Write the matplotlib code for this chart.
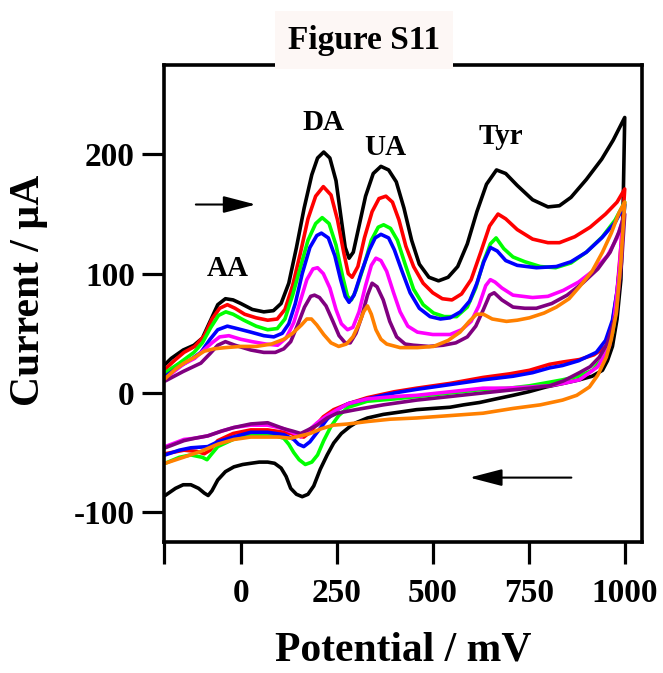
import matplotlib
matplotlib.use("Agg")
import matplotlib.pyplot as plt

plt.rcParams['font.family'] = ['Liberation Serif', 'DejaVu Serif']
plt.rcParams['font.weight'] = 'bold'
plt.rcParams['axes.unicode_minus'] = False

# cyclic voltammograms: (potential mV, current uA), forward then reverse scan
black_fwd = [(-197, 24), (-181, 29), (-150, 36), (-122, 40), (-100, 46), (-80, 60), (-60, 74),
             (-40, 79), (-20, 78), (0, 75), (30, 70), (60, 68), (85, 69), (105, 75), (125, 92),
             (145, 122), (165, 155), (185, 183), (200, 197), (216, 202), (232, 197), (248, 178),
             (262, 145), (272, 122), (282, 113), (293, 118), (308, 140), (325, 165), (345, 184),
             (365, 190), (385, 187), (405, 177), (425, 155), (445, 128), (465, 108), (490, 97),
             (515, 94), (540, 97), (565, 106), (590, 125), (615, 152), (640, 175), (666, 187),
             (690, 184), (720, 174), (760, 162), (800, 156), (830, 157), (860, 164), (900, 179),
             (940, 196), (970, 212), (1000, 231)]
black_rev = [(1000, 231), (996, 160), (990, 95), (980, 62), (968, 39), (955, 27), (942, 19),
             (915, 14), (882, 11), (840, 8), (795, 5), (750, 1), (709, -2), (665, -5), (622, -8),
             (580, -10), (545, -12), (500, -13), (458, -14), (415, -16), (371, -18), (330, -21),
             (300, -25), (285, -28), (262, -34), (242, -42), (225, -52), (207, -64), (190, -78),
             (175, -85), (160, -87), (145, -85), (130, -80), (118, -70), (105, -63), (88, -59),
             (70, -58), (48, -58), (26, -59), (5, -60), (-18, -62), (-40, -66), (-60, -73),
             (-75, -82), (-85, -86), (-95, -84), (-110, -80), (-130, -77), (-150, -77),
             (-170, -80), (-197, -86)]

red_fwd = [(-197, 20), (-170, 28), (-148, 34), (-120, 39), (-95, 48), (-75, 62), (-55, 71),
           (-35, 74), (-15, 71), (10, 66), (40, 63), (70, 61), (95, 62), (115, 70), (135, 90),
           (155, 117), (175, 146), (195, 165), (215, 173), (235, 166), (252, 145), (268, 118),
           (280, 100), (290, 97), (305, 106), (322, 130), (342, 152), (360, 163), (378, 165),
           (395, 160), (412, 145), (430, 123), (450, 106), (475, 92), (500, 84), (525, 79),
           (550, 78), (575, 83), (600, 95), (625, 118), (648, 140), (670, 150), (690, 146),
           (720, 137), (760, 129), (800, 126), (830, 126), (870, 131), (910, 139), (950, 150),
           (980, 160), (1000, 171)]
red_rev = [(1000, 171), (992, 130), (980, 85), (965, 52), (952, 39), (920, 32), (882, 28),
           (840, 26), (804, 24), (752, 19), (700, 16), (631, 13), (545, 8), (458, 4), (400, 1),
           (329, -4), (280, -9), (242, -14), (215, -20), (199, -26), (180, -33), (164, -37),
           (150, -36), (130, -34), (112, -33), (70, -31), (26, -31), (-20, -34), (-60, -40),
           (-80, -48), (-95, -51), (-115, -49), (-148, -48), (-197, -51)]

green_fwd = [(-197, 17), (-160, 25), (-122, 34), (-100, 42), (-78, 55), (-58, 65), (-39, 68),
             (-20, 66), (8, 61), (40, 56), (70, 53), (95, 54), (115, 62), (135, 82), (155, 105),
             (175, 128), (195, 142), (212, 147), (230, 142), (248, 124), (265, 98), (278, 81),
             (288, 78), (300, 86), (320, 106), (340, 128), (358, 139), (372, 141), (390, 138),
             (408, 128), (428, 108), (450, 87), (475, 74), (502, 67), (530, 64), (562, 64),
             (590, 72), (612, 88), (632, 110), (650, 125), (665, 130), (685, 121), (709, 114),
             (740, 110), (780, 106), (820, 105), (860, 109), (900, 118), (942, 131), (975, 145),
             (1000, 160)]
green_rev = [(1000, 160), (990, 110), (980, 75), (968, 50), (945, 30), (916, 19), (880, 14),
             (838, 11), (804, 9), (752, 6), (700, 4), (631, 3), (545, 0), (458, -3), (400, -5),
             (329, -7), (280, -12), (255, -19), (235, -28), (216, -40), (200, -52), (185, -58),
             (168, -60), (152, -56), (138, -50), (125, -43), (112, -38), (80, -35), (26, -35),
             (-20, -39), (-60, -45), (-78, -52), (-88, -56), (-100, -54), (-130, -52),
             (-160, -54), (-197, -59)]

blue_fwd = [(-197, 14), (-160, 22), (-130, 28), (-104, 34), (-80, 45), (-60, 53), (-35, 56),
            (-10, 54), (26, 51), (60, 48), (86, 47), (108, 50), (125, 58), (142, 75), (160, 100),
            (180, 122), (198, 132), (210, 134), (228, 130), (245, 115), (260, 95), (272, 81),
            (282, 76), (295, 82), (315, 102), (335, 120), (350, 130), (365, 133), (385, 130),
            (400, 120), (420, 102), (441, 84), (465, 71), (493, 64), (520, 62), (545, 63),
            (572, 68), (596, 77), (615, 92), (633, 110), (650, 122), (668, 119), (690, 111),
            (720, 107), (770, 105), (822, 106), (860, 110), (900, 118), (940, 130), (975, 143),
            (1000, 158)]
blue_rev = [(1000, 158), (990, 115), (980, 85), (968, 61), (950, 44), (926, 34), (880, 27),
            (838, 23), (804, 21), (760, 17), (709, 14), (631, 11), (545, 7), (458, 3), (400, 0),
            (329, -5), (280, -9), (251, -14), (225, -22), (199, -33), (180, -41), (164, -45),
            (150, -43), (138, -39), (112, -35), (70, -33), (26, -33), (-20, -37), (-60, -41),
            (-86, -45), (-130, -46), (-160, -48), (-197, -52)]

magenta_fwd = [(-197, 12), (-150, 24), (-120, 29), (-96, 36), (-75, 42), (-55, 47), (-31, 48),
               (0, 45), (30, 43), (65, 41), (96, 40), (118, 46), (138, 59), (155, 77), (172, 95),
               (188, 104), (200, 105), (215, 100), (232, 88), (248, 70), (262, 58), (278, 53),
               (292, 55), (308, 68), (325, 90), (340, 107), (352, 113), (365, 111), (380, 102),
               (398, 84), (415, 68), (435, 56), (460, 51), (500, 49), (545, 49), (575, 53),
               (600, 60), (620, 73), (638, 90), (650, 95), (662, 93), (680, 88), (709, 82),
               (760, 80), (800, 81), (840, 86), (880, 93), (920, 103), (955, 115), (980, 130),
               (995, 145)]
magenta_rev = [(995, 145), (985, 100), (972, 60), (960, 39), (930, 22), (882, 11), (840, 8),
               (804, 6), (752, 5), (690, 4), (631, 4), (545, 1), (458, -2), (400, -3), (329, -5),
               (280, -9), (251, -14), (225, -19), (199, -25), (175, -32), (156, -37), (140, -34),
               (112, -30), (70, -27), (26, -27), (-18, -29), (-50, -32), (-86, -36), (-120, -38),
               (-148, -39), (-197, -45)]

purple_fwd = [(-197, 10), (-150, 18), (-104, 25), (-80, 33), (-60, 40), (-40, 43), (-15, 40),
              (26, 36), (60, 34), (90, 34), (112, 37), (130, 43), (148, 57), (166, 72), (182, 81),
              (192, 82), (205, 80), (222, 73), (240, 60), (256, 48), (272, 42), (285, 42),
              (300, 50), (315, 64), (330, 82), (342, 92), (355, 89), (371, 78), (388, 60),
              (406, 47), (428, 41), (450, 40), (490, 39), (527, 40), (560, 42), (590, 47),
              (612, 56), (632, 70), (648, 82), (660, 84), (680, 78), (709, 72), (740, 71),
              (770, 71), (810, 75), (850, 82), (890, 92), (930, 104), (962, 118), (985, 135),
              (1000, 150)]
purple_rev = [(1000, 150), (992, 110), (978, 67), (955, 42), (934, 30), (910, 22), (882, 17),
              (840, 10), (804, 6), (752, 4), (690, 2), (631, 0), (545, -3), (458, -6), (371, -10),
              (300, -14), (251, -17), (225, -21), (199, -27), (175, -31), (156, -34), (135, -32),
              (112, -30), (70, -25), (26, -26), (-18, -29), (-50, -32), (-86, -36), (-120, -38),
              (-148, -40), (-197, -46)]

orange_fwd = [(-197, 12), (-170, 20), (-148, 25), (-120, 30), (-95, 35), (-70, 37), (-40, 38),
              (0, 39), (40, 39), (80, 41), (112, 45), (135, 50), (158, 57), (172, 62), (184, 62),
              (198, 57), (216, 49), (235, 42), (255, 39), (275, 41), (292, 47), (308, 58),
              (320, 68), (330, 73), (340, 66), (352, 53), (365, 45), (380, 41), (415, 38),
              (460, 38), (502, 39), (540, 44), (571, 51), (595, 60), (614, 66), (632, 66),
              (655, 62), (692, 60), (720, 61), (752, 63), (790, 67), (822, 72), (855, 79),
              (882, 89), (915, 102), (942, 118), (965, 134), (985, 151), (1000, 160)]
orange_rev = [(1000, 160), (996, 140), (990, 110), (978, 67), (965, 45), (952, 30), (930, 15),
              (908, 5), (875, -2), (838, -6), (780, -10), (709, -13), (631, -17), (545, -19),
              (458, -21), (390, -22), (329, -24), (280, -26), (242, -27), (210, -30), (181, -34),
              (155, -36), (130, -38), (100, -37), (70, -37), (26, -37), (-18, -39), (-60, -43),
              (-104, -49), (-150, -54), (-197, -59)]

curves = [
    (black_fwd, black_rev, 'black'),
    (red_fwd, red_rev, '#ff0000'),
    (green_fwd, green_rev, '#00ff00'),
    (blue_fwd, blue_rev, '#0000ff'),
    (magenta_fwd, magenta_rev, '#ff00ff'),
    (purple_fwd, purple_rev, '#800080'),
    (orange_fwd, orange_rev, '#ff8000'),
]

peak_names = ['AA', 'DA', 'UA', 'Tyr']
peak_pos = [(-34, 104), (215, 227), (376, 206), (677, 215)]

x_ticks = [-200, 0, 250, 500, 750, 1000]
x_labels = ['', '0', '250', '500', '750', '1000']
y_ticks = [-100, 0, 100, 200]

W, H = 663, 673
fig = plt.figure(figsize=(W / 100, H / 100), dpi=100)
ax = fig.add_axes([164 / W, (H - 542) / H, 478 / W, 477 / H])

for fwd, rev, color in curves:
    pts = fwd + rev
    ax.plot([p[0] for p in pts], [p[1] for p in pts], color=color, lw=2.6,
            solid_joinstyle='round', solid_capstyle='round')

for name, (px, py) in zip(peak_names, peak_pos):
    ax.text(px, py, name, ha='center', va='center', fontsize=21, fontweight='bold')

# scan direction arrows
arrow_style = '-|>,head_length=1.0,head_width=0.26'
ax.annotate('', xy=(39, 158), xytext=(-117, 158),
            arrowprops=dict(arrowstyle=arrow_style, mutation_scale=20, lw=1.5,
                            color='black', shrinkA=0, shrinkB=0))
ax.annotate('', xy=(596, -71), xytext=(861, -71),
            arrowprops=dict(arrowstyle=arrow_style, mutation_scale=20, lw=1.5,
                            color='black', shrinkA=0, shrinkB=0))

ax.set_xlim(-200, 1045)
ax.set_ylim(-125, 275)
ax.set_xticks(x_ticks)
ax.set_xticklabels(x_labels)
ax.set_yticks(y_ticks)
ax.tick_params(direction='out', length=16, width=2.3, labelsize=24)
ax.tick_params(axis='x', pad=10)
ax.tick_params(axis='y', pad=5)
for lab in ax.get_xticklabels() + ax.get_yticklabels():
    lab.set_fontweight('bold')
for sp in ax.spines.values():
    sp.set_linewidth(2.6)

ax.set_xlabel('Potential / mV', fontsize=30, fontweight='bold', va='center')
ax.xaxis.set_label_coords(0.5, -0.228)
ax.set_ylabel('Current / µA', fontsize=30, fontweight='bold', va='center', ha='center')
ax.yaxis.set_label_coords(-0.282, 0.528)

fig.text(364 / W, 1 - 40 / H, 'Figure S11', ha='center', va='center', fontsize=24,
         fontweight='bold',
         bbox=dict(facecolor='#fdf7f5', edgecolor='none', boxstyle='square,pad=0.4'))

fig.savefig('out.png', dpi=100)
